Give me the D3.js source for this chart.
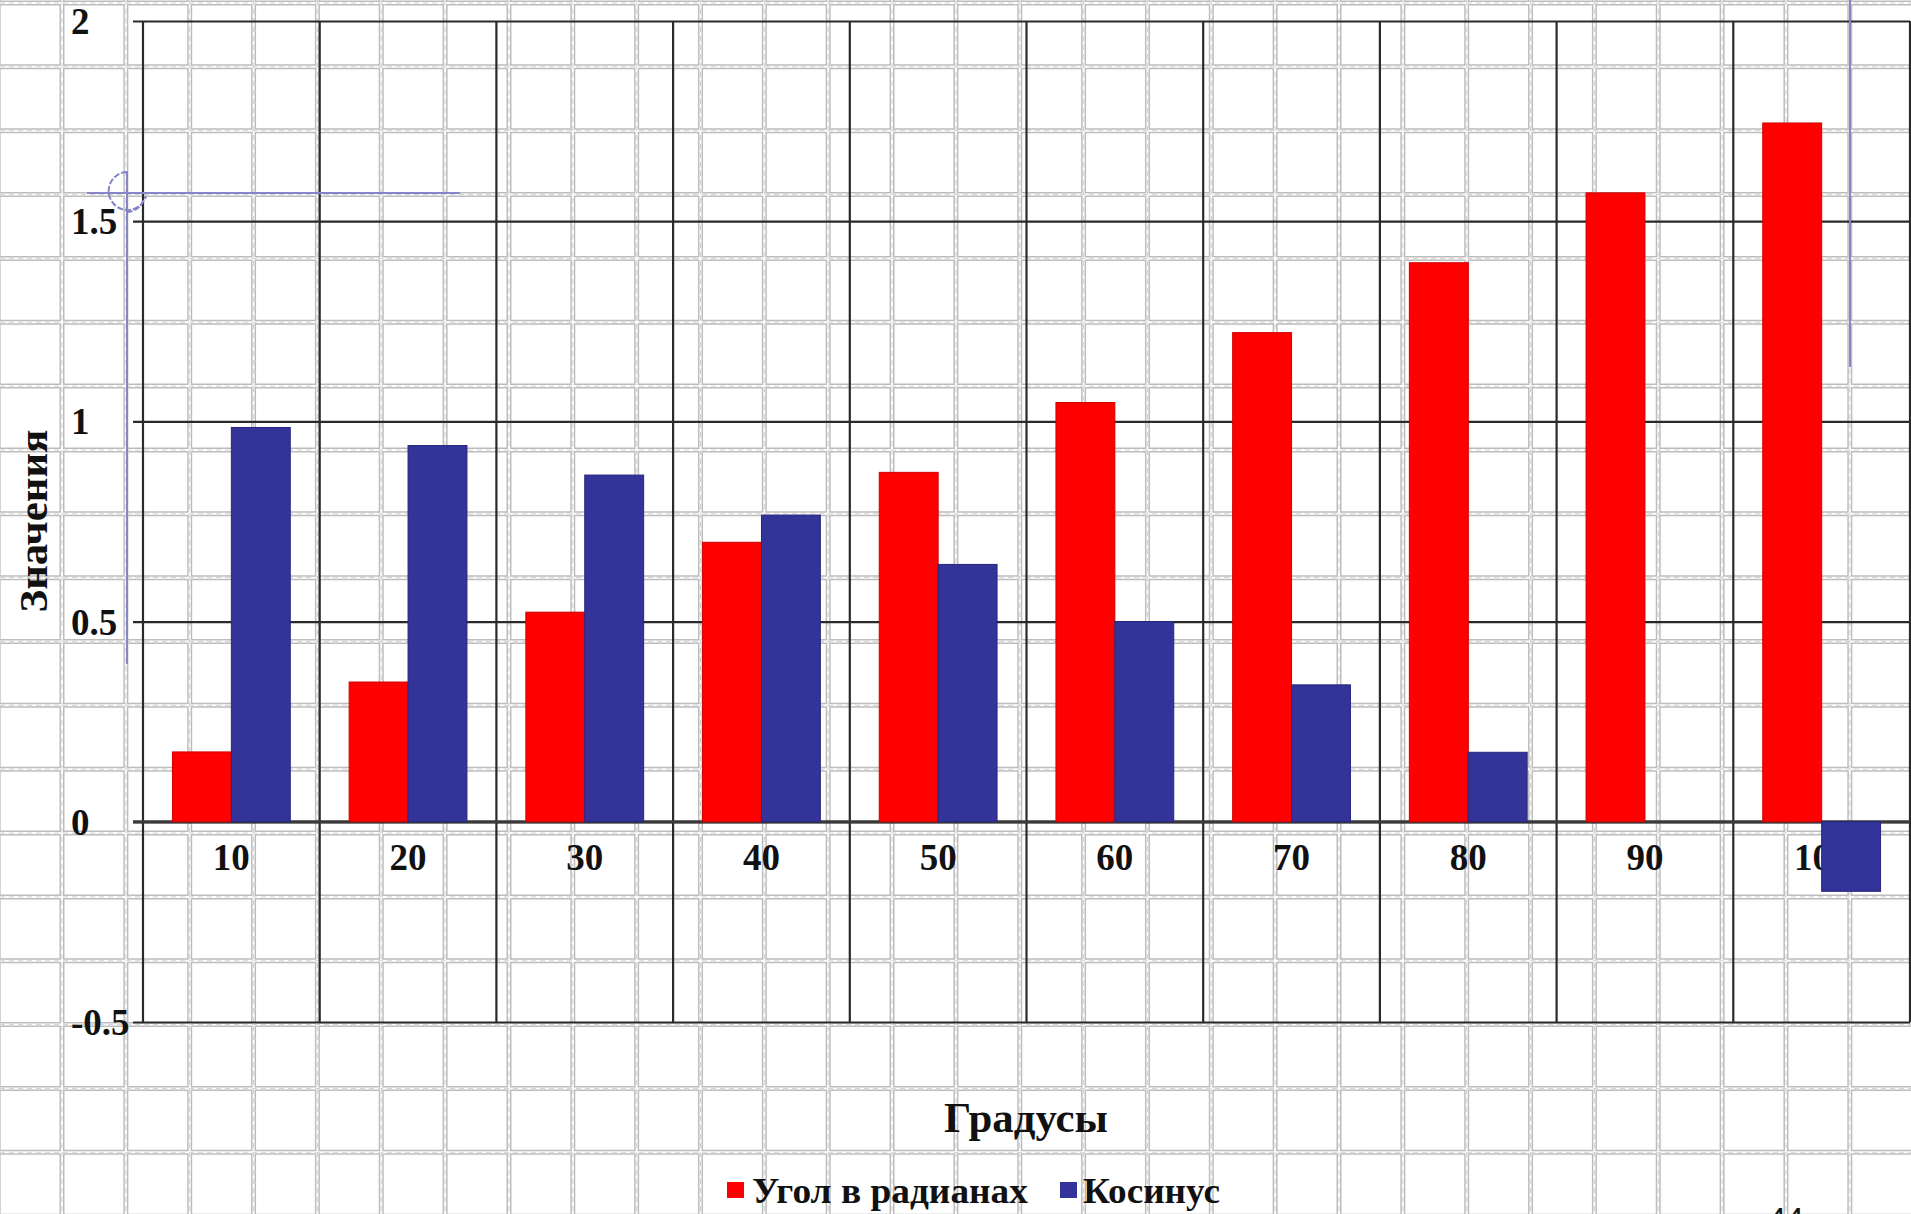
<!DOCTYPE html>
<html>
<head>
<meta charset="utf-8">
<script src="https://cdn.jsdelivr.net/npm/d3@7"></script>
<style>
  html, body { margin: 0; padding: 0; background: #fff; overflow: hidden; }
  svg { display: block; }
  .serif { font-family: "Liberation Serif", "Times New Roman", serif; font-weight: bold; fill: #111; }
</style>
</head>
<body>
<svg id="chart" width="1911" height="1214"></svg>
<script>
// Degrees on the category axis
const categories = ["10", "20", "30", "40", "50", "60", "70", "80", "90", "100"];
// Angle in radians for each category
const radians = [0.1745, 0.3491, 0.5236, 0.6981, 0.8727, 1.0472, 1.2217, 1.3963, 1.5708, 1.7453];
// Cosine for each category
const cosine = [0.9848, 0.9397, 0.8660, 0.7660, 0.6428, 0.5000, 0.3420, 0.1736, 0.0000, -0.1736];
// Value axis ticks
const yTicks = [-0.5, 0, 0.5, 1, 1.5, 2];
const seriesNames = ["Угол в радианах", "Косинус"];
const seriesColors = ["#ff0000", "#333399"];

const W = 1911, H = 1214;
const svg = d3.select("#chart");

// ---- graph paper background ----
const cell = 63.85;
const paper = svg.append("g");
const vx = d3.range(-1, 30).map(k => 62 + k * cell).filter(v => v > -5 && v < W + 5);
const hy = d3.range(0, 20).map(k => 3 + k * cell).filter(v => v < H + 5);
function paperLines(sel, stroke, width, dash) {
  sel.selectAll(null).data(vx).join("line")
    .attr("x1", d => d).attr("x2", d => d).attr("y1", 0).attr("y2", H)
    .attr("stroke", stroke).attr("stroke-width", width).attr("stroke-dasharray", dash);
  sel.selectAll(null).data(hy).join("line")
    .attr("y1", d => d).attr("y2", d => d).attr("x1", 0).attr("x2", W)
    .attr("stroke", stroke).attr("stroke-width", width).attr("stroke-dasharray", dash);
}
paperLines(paper.append("g"), "#bdbdbd", 5, null);
paperLines(paper.append("g"), "#ffffff", 2, null);
paperLines(paper.append("g"), "#d2d2d2", 1, "5 4");

// ---- chart ----
const plot = { left: 143, right: 1910, top: 21, bottom: 1022 };
const x = d3.scaleBand().domain(categories).range([plot.left, plot.right]);
const xs = d3.scaleBand().domain(seriesNames).range([0, x.bandwidth()]).paddingOuter(0.5);
const y = d3.scaleLinear().domain([-0.5, 2]).range([plot.bottom, plot.top]);

const lineColor = "#2a2a2a";

// horizontal major gridlines with left tick stubs
const yAxis = d3.axisLeft(y).tickValues(yTicks).tickSize(plot.right - plot.left + 10).tickFormat(d => d);
const gy = svg.append("g").attr("transform", `translate(${plot.right},0)`).call(yAxis);
gy.select(".domain").remove();
gy.selectAll(".tick line").attr("stroke", lineColor).attr("stroke-width", 2.2);
gy.selectAll(".tick text")
  .attr("class", "serif")
  .attr("x", 71 - plot.right)
  .attr("text-anchor", "start")
  .attr("dy", "0.34em")
  .style("font-size", "37px");

// vertical category separators (full height)
const bounds = categories.map(c => x(c)).concat([plot.right]);
svg.append("g").selectAll("line").data(bounds).join("line")
  .attr("x1", d => d).attr("x2", d => d)
  .attr("y1", plot.top).attr("y2", plot.bottom)
  .attr("stroke", lineColor).attr("stroke-width", 2.2);

// category labels sit under the bars
const xAxis = d3.axisBottom(x).tickSize(0).tickPadding(0);
const gx = svg.append("g").attr("transform", `translate(0,${y(0)})`).call(xAxis);
gx.select(".domain").remove();
gx.selectAll(".tick text")
  .attr("class", "serif")
  .attr("y", 36)
  .attr("dy", "0.34em")
  .style("font-size", "37px");

// zero line
svg.append("line")
  .attr("x1", plot.left - 10).attr("x2", plot.right)
  .attr("y1", y(0)).attr("y2", y(0))
  .attr("stroke", "#3a3a3a").attr("stroke-width", 3);

// bars
const rows = categories.map((c, i) => ({ c, vals: [radians[i], cosine[i]] }));
const groups = svg.append("g").selectAll("g").data(rows).join("g")
  .attr("transform", d => `translate(${x(d.c)},0)`);
groups.selectAll("rect").data(d => d.vals.map((v, j) => ({ v, j })))
  .join("rect")
  .attr("x", d => xs(seriesNames[d.j]))
  .attr("width", xs.bandwidth())
  .attr("y", d => y(Math.max(0, d.v)))
  .attr("height", d => Math.abs(y(d.v) - y(0)))
  .attr("fill", d => seriesColors[d.j])
  .attr("stroke", d => d.j === 0 ? "#d00000" : "#262680")
  .attr("stroke-width", 1);

// axis titles
svg.append("text").attr("class", "serif")
  .attr("transform", "translate(47,521) rotate(-90)")
  .attr("text-anchor", "middle")
  .attr("textLength", 183).attr("lengthAdjust", "spacingAndGlyphs")
  .style("font-size", "40px")
  .text("Значения");

svg.append("text").attr("class", "serif")
  .attr("x", 944).attr("y", 1132)
  .attr("textLength", 164).attr("lengthAdjust", "spacingAndGlyphs")
  .style("font-size", "42px")
  .text("Градусы");

// legend
const legendItems = [
  { name: seriesNames[0], color: seriesColors[0], sx: 727, tx: 752, len: 276 },
  { name: seriesNames[1], color: seriesColors[1], sx: 1060, tx: 1083, len: 137 }
];
const lg = svg.append("g");
lg.selectAll("rect").data(legendItems).join("rect")
  .attr("x", d => d.sx).attr("y", 1182).attr("width", 17).attr("height", 16)
  .attr("fill", d => d.color);
lg.selectAll("text").data(legendItems).join("text")
  .attr("class", "serif")
  .attr("x", d => d.tx).attr("y", 1203)
  .attr("textLength", d => d.len).attr("lengthAdjust", "spacingAndGlyphs")
  .style("font-size", "36px")
  .text(d => d.name);

// page markers
const markColor = "#8585c8";
const marks = svg.append("g").attr("stroke", markColor).attr("stroke-width", 2).attr("fill", "none");
marks.append("line").attr("x1", 127).attr("x2", 127).attr("y1", 171).attr("y2", 664);
marks.append("line").attr("x1", 87).attr("x2", 460).attr("y1", 193).attr("y2", 193);
marks.append("path")
  .attr("d", "M127,172 A 19 19 0 1 0 146,196 L 141,205 A 19 19 0 0 1 127,212")
  .attr("stroke-dasharray", "6 2");
marks.append("line").attr("x1", 1850).attr("x2", 1850).attr("y1", 0).attr("y2", 367);

// page number at the bottom edge
svg.append("text")
  .attr("x", 1786).attr("y", 1230)
  .attr("text-anchor", "middle")
  .style("font-family", "Liberation Sans, Arial, sans-serif")
  .style("font-size", "32px")
  .attr("fill", "#111")
  .text("44");
</script>
</body>
</html>
